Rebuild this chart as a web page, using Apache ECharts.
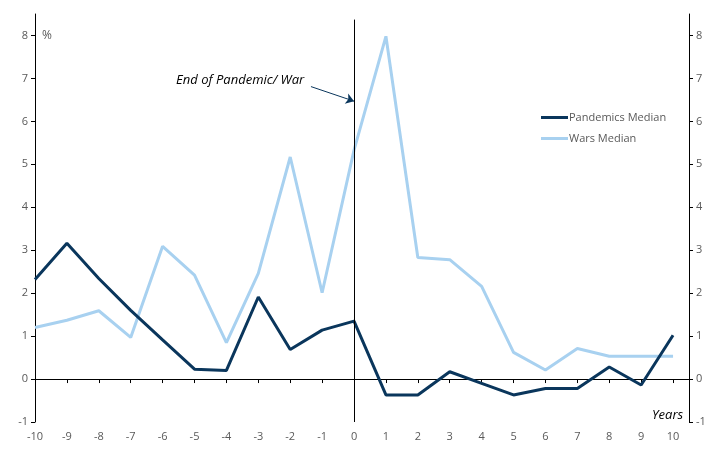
<!DOCTYPE html>
<html>
<head>
<meta charset="utf-8">
<script src="https://cdn.jsdelivr.net/npm/echarts@6/dist/echarts.min.js"></script>
<style>
  html, body { margin: 0; padding: 0; background: #fff; }
  #chart { width: 720px; height: 457px; }
</style>
</head>
<body>
<div id="chart"></div>
<script>
  // 数据
  const years = [-10, -9, -8, -7, -6, -5, -4, -3, -2, -1, 0, 1, 2, 3, 4, 5, 6, 7, 8, 9, 10]
  const pandemicsMedian = [2.32, 3.16, 2.34, 1.60, 0.91, 0.23, 0.20, 1.91, 0.69, 1.14, 1.35,
    -0.37, -0.37, 0.17, -0.10, -0.37, -0.22, -0.22, 0.28, -0.14, 1.02]
  const warsMedian = [1.20, 1.37, 1.59, 0.97, 3.09, 2.42, 0.85, 2.46, 5.17, 2.01, 5.33,
    7.98, 2.83, 2.78, 2.16, 0.62, 0.21, 0.71, 0.53, 0.53, 0.53]
  const yTicks = [-1, 0, 1, 2, 3, 4, 5, 6, 7, 8]

  const chart = echarts.init(document.getElementById('chart'))
  const font = 'Open Sans'
  const labelColor = '#595959'

  const yAxisBase = {
    type: 'value',
    min: -1,
    max: 8.5,
    interval: 1,
    splitLine: { show: false },
    axisLine: { show: true, onZero: false, lineStyle: { color: '#000', width: 1 } },
    axisTick: { show: true, length: 4, customValues: yTicks, lineStyle: { color: '#000' } },
    axisLabel: { customValues: yTicks, color: labelColor, fontFamily: font, fontSize: 11, margin: 7 },
  }

  const option = {
    animation: false,
    grid: { left: 35, right: 31, top: 14, bottom: 35, containLabel: false },
    legend: {
      orient: 'vertical',
      left: 536,
      top: 107,
      icon: 'rect',
      itemWidth: 27,
      itemHeight: 3,
      itemGap: 10,
      itemStyle: { borderWidth: 0 },
      textStyle: { color: labelColor, fontFamily: font, fontSize: 11, padding: [0, 0, 0, -4] },
      data: ['Pandemics Median', 'Wars Median'],
    },
    xAxis: [
      {
        // 底部刻度标签
        type: 'value',
        min: -10,
        max: 10.5,
        position: 'bottom',
        splitLine: { show: false },
        axisLine: { show: false, onZero: false },
        axisTick: { show: false },
        axisLabel: { customValues: years, color: labelColor, fontFamily: font, fontSize: 11, margin: 9 },
      },
      {
        // 零线与刻度
        type: 'value',
        min: -10,
        max: 10.5,
        position: 'top',
        splitLine: { show: false },
        axisLine: { show: true, onZero: true, onZeroAxisIndex: 0, lineStyle: { color: '#000', width: 1 } },
        axisTick: { show: true, inside: true, length: 4, customValues: years, lineStyle: { color: '#000' } },
        axisLabel: { show: false },
      },
    ],
    yAxis: [
      Object.assign({}, yAxisBase, { position: 'left' }),
      Object.assign({}, yAxisBase, { position: 'right' }),
    ],
    graphic: [
      { type: 'text', left: 42, top: 30, style: { text: '%', fill: labelColor, font: '12px "Open Sans"' } },
      { type: 'text', left: 652, top: 409, style: { text: 'Years', fill: '#000', font: 'italic 13px "Open Sans"' } },
    ],
    series: [
      {
        name: 'Pandemics Median',
        type: 'line',
        data: years.map((x, i) => [x, pandemicsMedian[i]]),
        symbol: 'none',
        lineStyle: { color: '#0a365c', width: 3 },
        itemStyle: { color: '#0a365c' },
        z: 3,
        markLine: {
          silent: true,
          symbol: ['none', 'none'],
          label: { show: false },
          lineStyle: { color: '#000', width: 1, type: 'solid' },
          data: [
            [{ coord: [0, 8.37] }, { coord: [0, -1] }],
            [
              { coord: [-1.35, 6.81], symbol: 'none' },
              { coord: [0, 6.47], symbol: 'arrow', symbolSize: 8, lineStyle: { color: '#0a365c' } },
            ],
          ],
        },
        markPoint: {
          silent: true,
          symbol: 'rect',
          symbolSize: 1,
          itemStyle: { color: 'transparent' },
          label: {
            show: true,
            formatter: 'End of Pandemic/ War',
            color: '#000',
            fontStyle: 'italic',
            fontFamily: font,
            fontSize: 13,
          },
          data: [{ coord: [-3.57, 6.95] }],
        },
      },
      {
        name: 'Wars Median',
        type: 'line',
        data: years.map((x, i) => [x, warsMedian[i]]),
        symbol: 'none',
        lineStyle: { color: '#a8d1f0', width: 3 },
        itemStyle: { color: '#a8d1f0' },
        z: 2,
      },
    ],
  }

  chart.setOption(option)
</script>
</body>
</html>
